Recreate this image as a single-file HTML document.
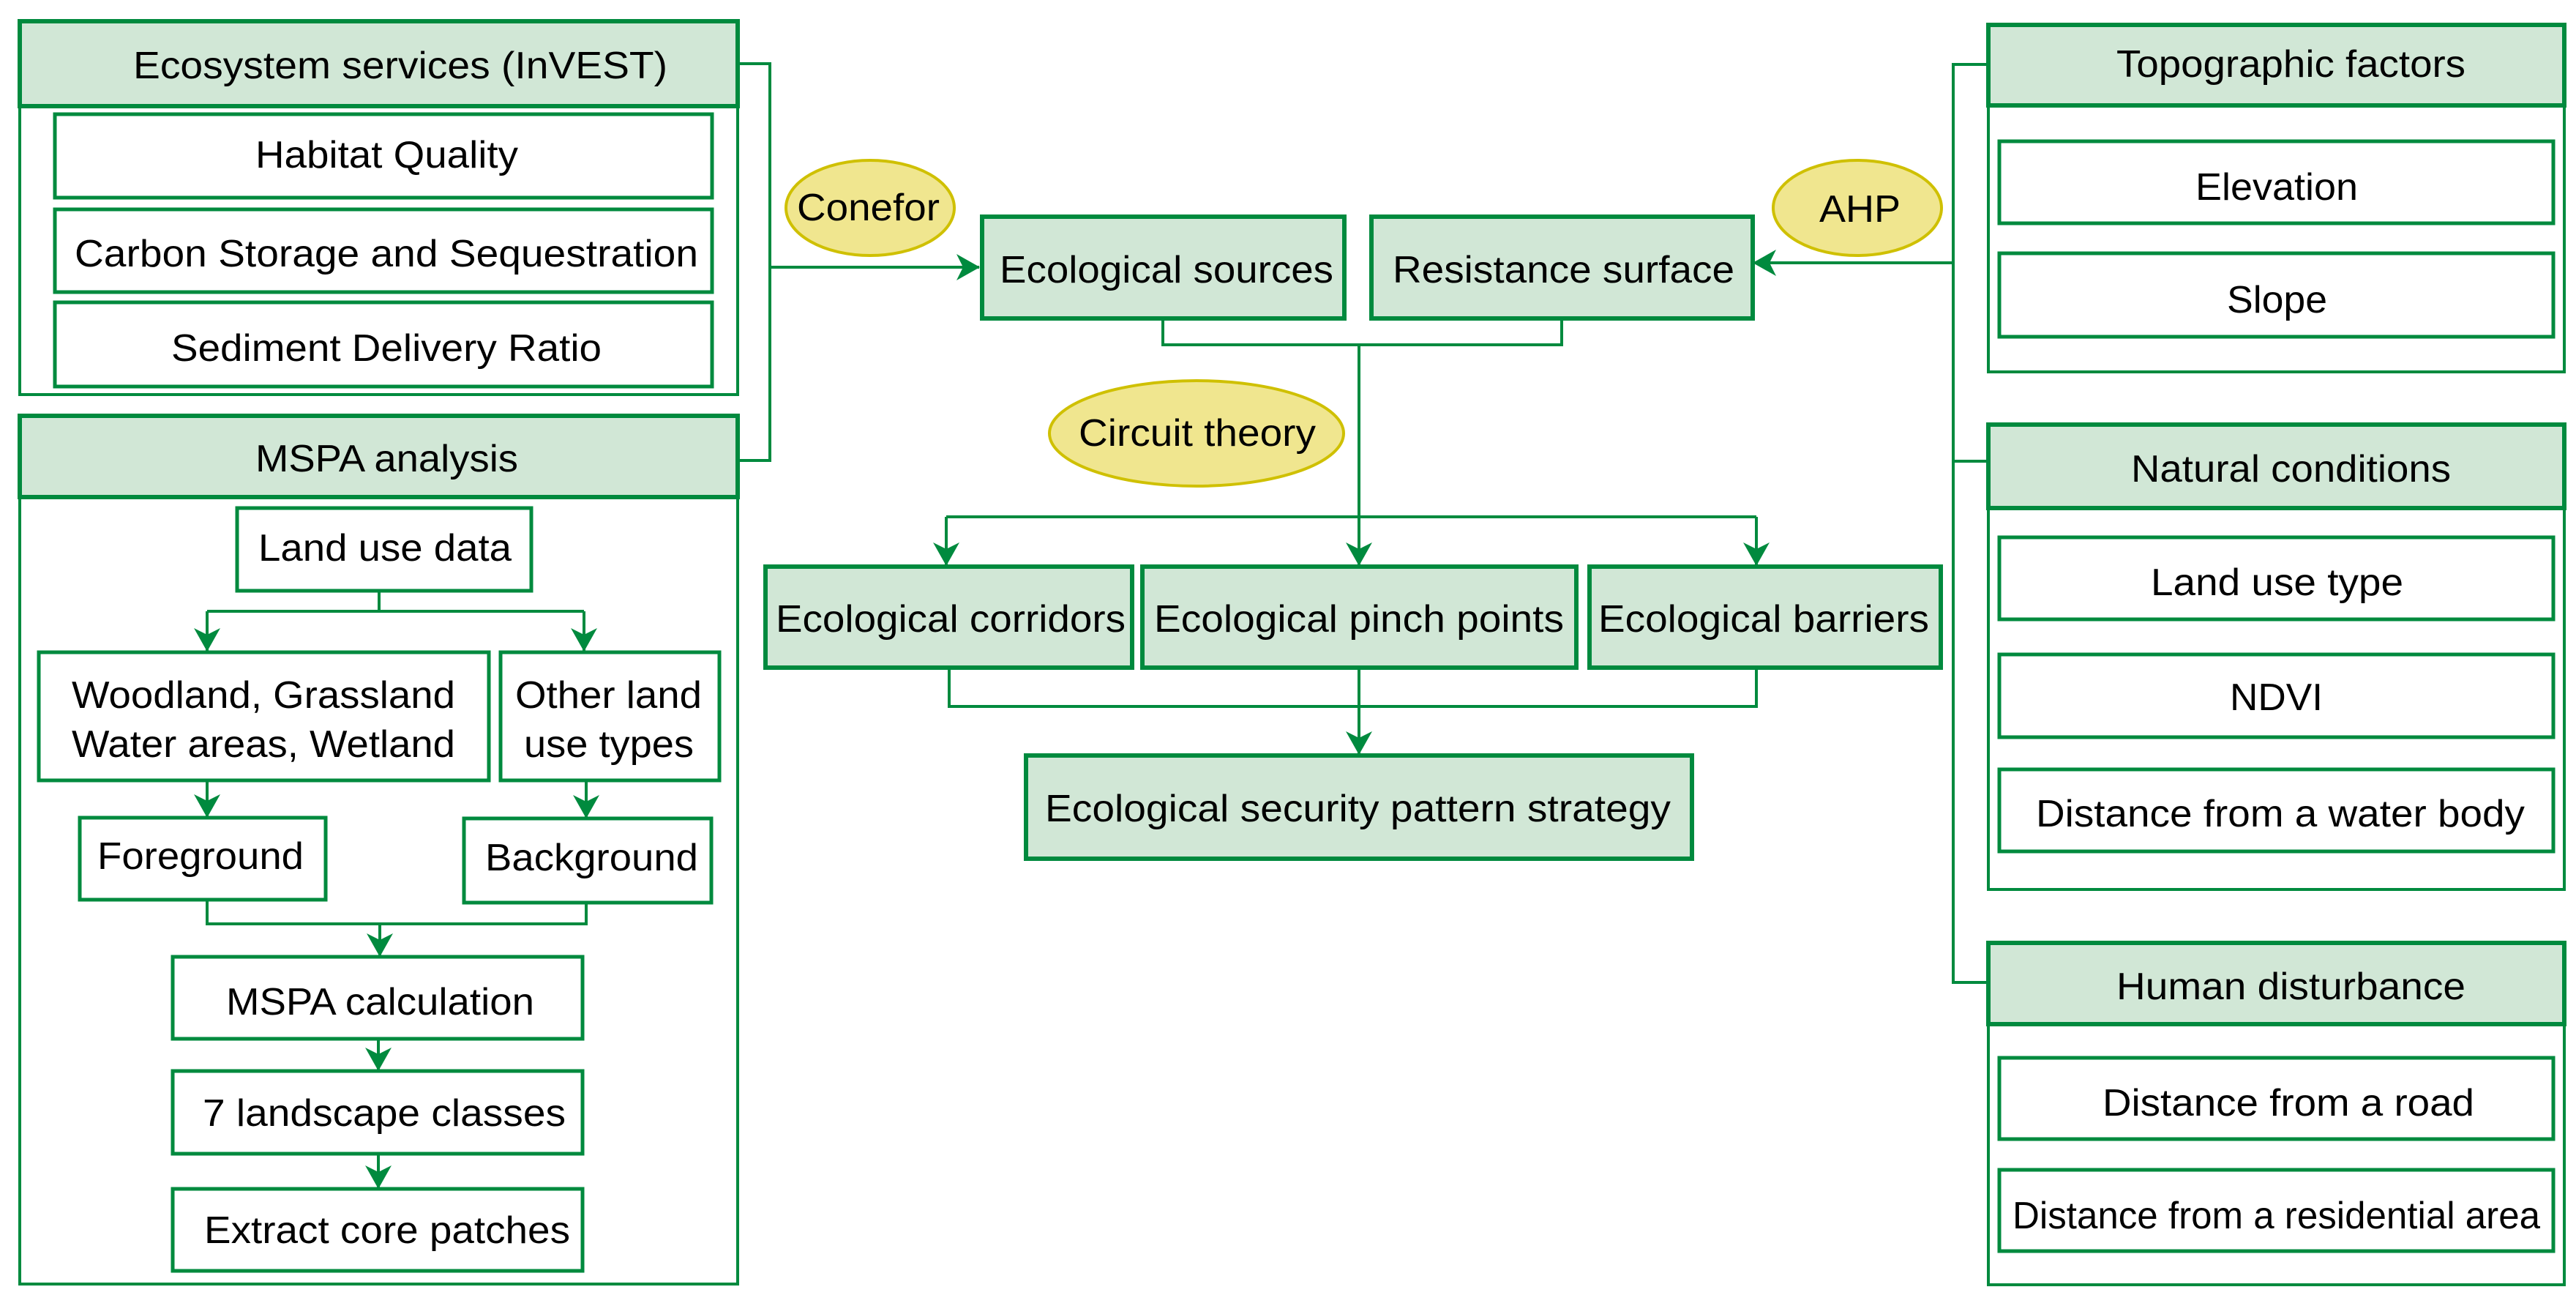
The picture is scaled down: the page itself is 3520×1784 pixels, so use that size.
<!DOCTYPE html>
<html><head><meta charset="utf-8"><style>html,body{margin:0;padding:0;background:#fff}svg{display:block}</style></head>
<body>
<svg xmlns="http://www.w3.org/2000/svg" width="3520" height="1784" viewBox="0 0 3520 1784">
<defs>
<marker id="a" viewBox="0 0 32 36" refX="31" refY="18" markerWidth="32" markerHeight="36" markerUnits="userSpaceOnUse" orient="auto">
<path d="M0,0 L32,18 L0,36 L9,18 Z" fill="#008a3e"/>
</marker>
</defs>
<style>
.h{fill:#d1e7d6;stroke:#008a3e;stroke-width:6}
.b{fill:#fff;stroke:#008a3e;stroke-width:5}
.o{fill:none;stroke:#008a3e;stroke-width:4}
.l{fill:none;stroke:#008a3e;stroke-width:4}
.e{fill:#f0e68f;stroke:#cfc000;stroke-width:4}
text{font-family:"Liberation Sans",Arial,sans-serif;font-size:52px;fill:#000}
</style>

<!-- Left: Ecosystem -->
<rect class="o" x="27" y="29" width="981" height="510"/>
<rect class="h" x="27" y="29" width="981" height="116"/>
<text x="182" y="107" textLength="730" lengthAdjust="spacingAndGlyphs">Ecosystem services (InVEST)</text>
<rect class="b" x="75" y="156" width="898" height="114"/>
<text x="349" y="229" textLength="359" lengthAdjust="spacingAndGlyphs">Habitat Quality</text>
<rect class="b" x="75" y="286" width="898" height="113"/>
<text x="102" y="364" textLength="852" lengthAdjust="spacingAndGlyphs">Carbon Storage and Sequestration</text>
<rect class="b" x="75" y="413" width="898" height="115"/>
<text x="234" y="493" textLength="588" lengthAdjust="spacingAndGlyphs">Sediment Delivery Ratio</text>

<!-- MSPA -->
<rect class="o" x="27" y="568" width="981" height="1186"/>
<rect class="h" x="27" y="568" width="981" height="111"/>
<text x="349" y="644" textLength="359" lengthAdjust="spacingAndGlyphs">MSPA analysis</text>

<rect class="b" x="324" y="694" width="402" height="113"/>
<text x="353" y="766" textLength="346" lengthAdjust="spacingAndGlyphs">Land use data</text>
<path class="l" d="M518,807 V835 M283,835 H798"/>
<path class="l" d="M283,835 V889" marker-end="url(#a)"/>
<path class="l" d="M798,835 V889" marker-end="url(#a)"/>

<rect class="b" x="53" y="891" width="615" height="175"/>
<text x="98" y="967" textLength="524" lengthAdjust="spacingAndGlyphs">Woodland, Grassland</text>
<text x="98" y="1034" textLength="524" lengthAdjust="spacingAndGlyphs">Water areas, Wetland</text>
<rect class="b" x="684" y="891" width="299" height="175"/>
<text x="704" y="967" textLength="255" lengthAdjust="spacingAndGlyphs">Other land</text>
<text x="716" y="1034" textLength="232" lengthAdjust="spacingAndGlyphs">use types</text>

<path class="l" d="M283,1066 V1116" marker-end="url(#a)"/>
<path class="l" d="M801,1066 V1117" marker-end="url(#a)"/>
<rect class="b" x="109" y="1117" width="336" height="112"/>
<text x="133" y="1187" textLength="282" lengthAdjust="spacingAndGlyphs">Foreground</text>
<rect class="b" x="634" y="1118" width="338" height="115"/>
<text x="663" y="1189" textLength="291" lengthAdjust="spacingAndGlyphs">Background</text>

<path class="l" d="M283,1229 V1262 H801 V1233"/>
<path class="l" d="M519,1262 V1306" marker-end="url(#a)"/>
<rect class="b" x="236" y="1307" width="560" height="112"/>
<text x="309" y="1386" textLength="421" lengthAdjust="spacingAndGlyphs">MSPA calculation</text>
<path class="l" d="M517,1419 V1462" marker-end="url(#a)"/>
<rect class="b" x="236" y="1463" width="560" height="113"/>
<text x="277" y="1538" textLength="496" lengthAdjust="spacingAndGlyphs">7 landscape classes</text>
<path class="l" d="M517,1576 V1623" marker-end="url(#a)"/>
<rect class="b" x="236" y="1624" width="560" height="112"/>
<text x="279" y="1698" textLength="500" lengthAdjust="spacingAndGlyphs">Extract core patches</text>

<!-- Left connector -->
<path class="l" d="M1008,87 H1052 V629 H1008"/>
<path class="l" d="M1052,365 H1338" marker-end="url(#a)"/>
<ellipse class="e" cx="1189" cy="284" rx="115" ry="65"/>
<text x="1089" y="301" textLength="195" lengthAdjust="spacingAndGlyphs">Conefor</text>

<!-- Center -->
<rect class="h" x="1342" y="296" width="495" height="139"/>
<text x="1366" y="386" textLength="456" lengthAdjust="spacingAndGlyphs">Ecological sources</text>
<rect class="h" x="1874" y="296" width="521" height="139"/>
<text x="1903" y="386" textLength="467" lengthAdjust="spacingAndGlyphs">Resistance surface</text>
<path class="l" d="M2670,359 H2396" marker-end="url(#a)"/>
<ellipse class="e" cx="2538" cy="284" rx="115" ry="65"/>
<text x="2486" y="303" textLength="111" lengthAdjust="spacingAndGlyphs">AHP</text>

<path class="l" d="M1589,435 V471 H2134 V435"/>
<path class="l" d="M1857,471 V772" marker-end="url(#a)"/>
<ellipse class="e" cx="1635" cy="592" rx="201" ry="72"/>
<text x="1474" y="609" textLength="324" lengthAdjust="spacingAndGlyphs">Circuit theory</text>
<path class="l" d="M1293,706 H2400"/>
<path class="l" d="M1293,706 V772" marker-end="url(#a)"/>
<path class="l" d="M2400,706 V772" marker-end="url(#a)"/>

<rect class="h" x="1046" y="774" width="501" height="138"/>
<text x="1060" y="863" textLength="478" lengthAdjust="spacingAndGlyphs">Ecological corridors</text>
<rect class="h" x="1561" y="774" width="593" height="138"/>
<text x="1577" y="863" textLength="560" lengthAdjust="spacingAndGlyphs">Ecological pinch points</text>
<rect class="h" x="2172" y="774" width="480" height="138"/>
<text x="2184" y="863" textLength="452" lengthAdjust="spacingAndGlyphs">Ecological barriers</text>

<path class="l" d="M1297,912 V965 H2400 V912"/>
<path class="l" d="M1857,912 V1030" marker-end="url(#a)"/>
<rect class="h" x="1402" y="1032" width="910" height="141"/>
<text x="1428" y="1122" textLength="855" lengthAdjust="spacingAndGlyphs">Ecological security pattern strategy</text>

<!-- Right -->
<path class="l" d="M2717,88 H2669 V1342 H2717 M2669,630 H2717"/>

<rect class="o" x="2717" y="34" width="787" height="474"/>
<rect class="h" x="2717" y="34" width="787" height="110"/>
<text x="2892" y="105" textLength="477" lengthAdjust="spacingAndGlyphs">Topographic factors</text>
<rect class="b" x="2732" y="193" width="757" height="112"/>
<text x="3000" y="273" textLength="222" lengthAdjust="spacingAndGlyphs">Elevation</text>
<rect class="b" x="2732" y="346" width="757" height="114"/>
<text x="3043" y="427" textLength="137" lengthAdjust="spacingAndGlyphs">Slope</text>

<rect class="o" x="2717" y="580" width="787" height="635"/>
<rect class="h" x="2717" y="580" width="787" height="114"/>
<text x="2912" y="658" textLength="437" lengthAdjust="spacingAndGlyphs">Natural conditions</text>
<rect class="b" x="2732" y="734" width="757" height="112"/>
<text x="2939" y="813" textLength="345" lengthAdjust="spacingAndGlyphs">Land use type</text>
<rect class="b" x="2732" y="894" width="757" height="113"/>
<text x="3047" y="970" textLength="127" lengthAdjust="spacingAndGlyphs">NDVI</text>
<rect class="b" x="2732" y="1051" width="757" height="112"/>
<text x="2782" y="1129" textLength="668" lengthAdjust="spacingAndGlyphs">Distance from a water body</text>

<rect class="o" x="2717" y="1288" width="787" height="467"/>
<rect class="h" x="2717" y="1288" width="787" height="111"/>
<text x="2892" y="1365" textLength="477" lengthAdjust="spacingAndGlyphs">Human disturbance</text>
<rect class="b" x="2732" y="1445" width="757" height="111"/>
<text x="2873" y="1524" textLength="508" lengthAdjust="spacingAndGlyphs">Distance from a road</text>
<rect class="b" x="2732" y="1598" width="757" height="111"/>
<text x="2750" y="1678" textLength="721" lengthAdjust="spacingAndGlyphs">Distance from a residential area</text>
</svg>
</body></html>
